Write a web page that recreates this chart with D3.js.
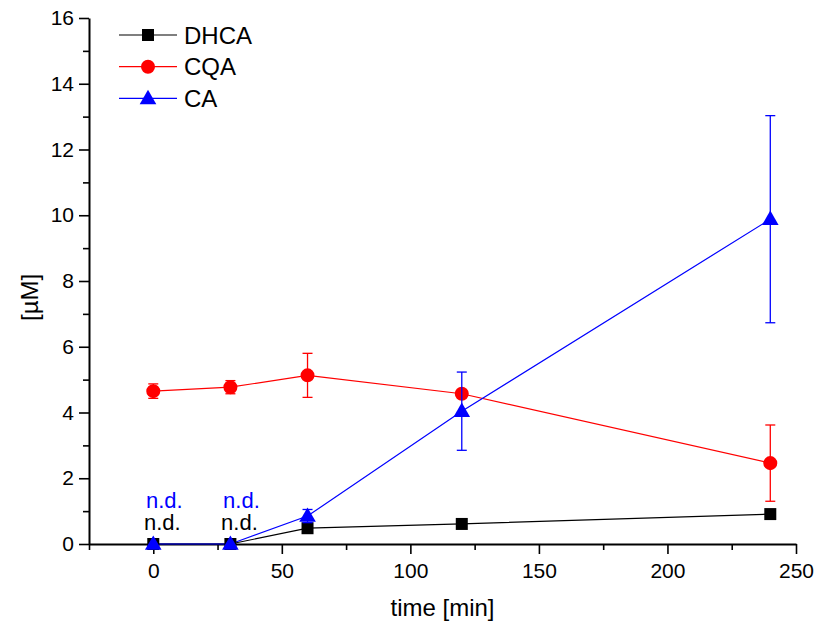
<!DOCTYPE html>
<html>
<head>
<meta charset="utf-8">
<script src="https://cdn.jsdelivr.net/npm/d3@7"></script>
<style>
  html, body { margin: 0; padding: 0; background: #fff; }
  svg { display: block; font-family: "Liberation Sans", Arial, sans-serif; }
</style>
</head>
<body>
<svg id="chart" width="815" height="628"></svg>
<script>
// Sampling times (min)
const times = [0, 30, 60, 120, 240];

// Concentrations (µM) and standard deviations per compound
const dhca    = [0, 0, 0.48, 0.61, 0.91];
const dhcaErr = [0, 0, 0.05, 0.05, 0.05];
const cqa     = [4.65, 4.77, 5.13, 4.57, 2.46];
const cqaErr  = [0.22, 0.2, 0.67, 0.1, 1.16];
const ca      = [0, 0, 0.85, 4.04, 9.88];
const caErr   = [0, 0, 0.2, 1.19, 3.15];

// Points reported as not detected
const ndTimes = [0, 30];

const seriesNames  = ["DHCA", "CQA", "CA"];
const seriesColors = ["#000000", "#ff0000", "#0000ff"];
const seriesShapes = [d3.symbolSquare, d3.symbolCircle, d3.symbolTriangle];
const seriesSizes  = [144, 154, 120];

const xMajorTicks = [0, 50, 100, 150, 200, 250];
const xMinorTicks = [-25, 25, 75, 125, 175, 225];
const yMajorTicks = [0, 2, 4, 6, 8, 10, 12, 14, 16];
const yMinorTicks = [1, 3, 5, 7, 9, 11, 13, 15];

const series = [
  { values: dhca, errors: dhcaErr },
  { values: cqa,  errors: cqaErr },
  { values: ca,   errors: caErr }
].map((s, i) => ({
  ...s,
  name: seriesNames[i],
  color: seriesColors[i],
  shape: seriesShapes[i],
  size: seriesSizes[i],
  points: times.map((t, j) => ({ t, v: s.values[j], e: s.errors[j] }))
}));

const svg = d3.select("#chart");
const x = d3.scaleLinear().domain([-25, 250]).range([89, 796]);
const y = d3.scaleLinear().domain([0, 16]).range([544, 18]);

// Axes
const axisFont = "21px";
const xAxis = svg.append("g").attr("transform", `translate(0,${y(0)})`)
  .call(d3.axisBottom(x).tickValues(xMajorTicks).tickSize(10).tickPadding(9).tickSizeOuter(0));
svg.append("g").attr("transform", `translate(0,${y(0)})`)
  .call(d3.axisBottom(x).tickValues(xMinorTicks).tickSize(6).tickFormat("").tickSizeOuter(0))
  .select(".domain").remove();
const yAxis = svg.append("g").attr("transform", `translate(${x(-25)},0)`)
  .call(d3.axisLeft(y).tickValues(yMajorTicks).tickSize(10).tickPadding(5).tickSizeOuter(0));
svg.append("g").attr("transform", `translate(${x(-25)},0)`)
  .call(d3.axisLeft(y).tickValues(yMinorTicks).tickSize(6).tickFormat("").tickSizeOuter(0))
  .select(".domain").remove();

svg.selectAll(".domain").attr("stroke", "#000").attr("stroke-width", 2);
svg.selectAll(".tick line").attr("stroke", "#000").attr("stroke-width", 1.6);
svg.selectAll(".tick text")
  .attr("font-family", "Liberation Sans, Arial, sans-serif")
  .attr("font-size", axisFont).attr("fill", "#000");

// Axis titles
svg.append("text")
  .attr("x", (x(-25) + x(250)) / 2).attr("y", 616)
  .attr("text-anchor", "middle").attr("font-size", "24px")
  .text("time [min]");
svg.append("text")
  .attr("transform", `translate(38,${y(7.5)}) rotate(-90)`)
  .attr("text-anchor", "middle").attr("font-size", "24px")
  .text("[µM]");

const line = d3.line().x(d => x(d.t)).y(d => y(d.v));

// Lines
series.forEach(s => {
  svg.append("path").datum(s.points)
    .attr("d", line).attr("fill", "none")
    .attr("stroke", s.color).attr("stroke-width", 1.2);
});

// Error bars and markers
const capHalf = 5;
series.forEach(s => {
  const g = svg.append("g");
  const withErr = s.points.filter(p => p.e > 0);
  g.selectAll("line.bar").data(withErr).join("line")
    .attr("x1", p => x(p.t)).attr("x2", p => x(p.t))
    .attr("y1", p => y(p.v + p.e)).attr("y2", p => y(p.v - p.e))
    .attr("stroke", s.color).attr("stroke-width", 1.3);
  ["top", "bottom"].forEach(side => {
    g.selectAll("line.cap-" + side).data(withErr).join("line")
      .attr("x1", p => x(p.t) - capHalf).attr("x2", p => x(p.t) + capHalf)
      .attr("y1", p => y(side === "top" ? p.v + p.e : p.v - p.e))
      .attr("y2", p => y(side === "top" ? p.v + p.e : p.v - p.e))
      .attr("stroke", s.color).attr("stroke-width", 1.3);
  });
  g.selectAll("path.marker").data(s.points).join("path")
    .attr("transform", p => `translate(${x(p.t)},${y(p.v) + (s.shape === d3.symbolTriangle ? 1 : 0)})`)
    .attr("d", d3.symbol().type(s.shape).size(s.size))
    .attr("fill", s.color);
});

// "not detected" annotations
const ndFont = "22px";
svg.selectAll("text.nd-dhca").data(ndTimes).join("text")
  .attr("x", t => x(t) + 9).attr("y", 530)
  .attr("text-anchor", "middle").attr("font-size", ndFont).attr("fill", "#000")
  .text("n.d.");
svg.selectAll("text.nd-ca").data(ndTimes).join("text")
  .attr("x", t => x(t) + 11).attr("y", 508)
  .attr("text-anchor", "middle").attr("font-size", ndFont).attr("fill", "#0000ff")
  .text("n.d.");

// Legend
const legend = svg.append("g");
series.forEach((s, i) => {
  const ly = 35 + i * 31.7;
  legend.append("line")
    .attr("x1", 119).attr("x2", 177).attr("y1", ly).attr("y2", ly)
    .attr("stroke", s.color).attr("stroke-width", 1.2);
  legend.append("path")
    .attr("transform", `translate(148,${ly + (s.shape === d3.symbolTriangle ? 1 : 0)})`)
    .attr("d", d3.symbol().type(s.shape).size(s.size))
    .attr("fill", s.color);
  legend.append("text")
    .attr("x", 184).attr("y", ly + 8.5)
    .attr("font-size", "24px").attr("fill", "#000")
    .text(s.name);
});
</script>
</body>
</html>
